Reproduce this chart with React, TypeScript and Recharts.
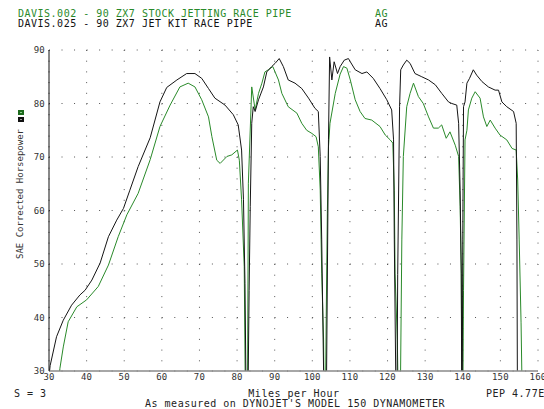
import React from 'react';
import { LineChart, Line, XAxis, YAxis, CartesianGrid } from 'recharts';

// DAVIS.025 - jet kit (black)
const jetKitMph = [
  30.0, 30.3, 32.0, 33.8, 36.0, 38.2, 39.6, 41.4, 43.6, 45.8, 48.0, 49.8, 51.5, 53.7, 56.9, 59.5,
  61.3, 64.0, 66.6, 68.8, 70.6, 72.4, 74.1, 76.8, 79.0, 80.3, 81.2, 81.7, 82.1, 82.4, 82.6,
  82.9, 83.2, 83.5, 83.9, 84.3, 84.8, 85.7, 87.0, 87.9, 89.2, 90.1, 91.2, 92.3, 93.6, 95.4, 97.2,
  99.0, 100.7, 101.6, 102.1, 102.5, 103.1, 103.4,
  103.8, 104.3, 104.6, 105.2, 105.8, 106.7, 107.4, 108.5, 109.6, 110.1, 111.4, 113.2, 114.5, 116.2,
  118.0, 119.8, 121.1, 121.6, 121.8, 122.2, 122.4,
  122.7, 123.2, 123.5, 124.2, 125.1, 126.0, 127.3, 129.1, 130.9, 132.7, 134.4, 136.2, 137.1, 138.4,
  138.9, 139.3, 139.6, 139.8,
  140.0, 140.2, 140.6, 141.1, 141.8, 142.8, 143.7, 145.1, 146.8, 148.6, 149.5, 150.4, 151.7, 153.5,
  154.2, 154.4, 154.6,
];
const jetKitHp = [
  29.0, 31.0, 36.4, 39.5, 42.3, 44.2, 45.1, 47.0, 50.2, 55.1, 58.2, 60.4, 63.8, 68.2, 73.6, 80.3,
  83.0, 84.4, 85.6, 85.6, 84.7, 82.8, 81.0, 79.7, 77.9, 76.0, 71.3, 62.0, 46.4, 25.0, 10.0,
  25.0, 45.0, 60.7, 76.3, 79.4, 78.5, 80.7, 83.1, 85.9, 86.9, 87.5, 88.4, 86.9, 84.4, 83.8, 82.8,
  81.0, 79.1, 78.5, 70.1, 54.5, 25.0, 10.0,
  30.0, 73.2, 88.7, 84.4, 87.8, 85.6, 86.9, 88.1, 88.4, 87.8, 86.3, 85.6, 85.9, 84.7,
  82.8, 80.7, 78.8, 73.2, 54.5, 28.0, 10.0,
  48.0, 79.4, 86.3, 87.2, 88.1, 87.5, 85.6, 85.0, 84.4, 83.5, 81.9, 80.3, 80.0, 79.7,
  76.3, 63.8, 48.3, 10.0,
  54.5, 79.4, 80.3, 83.8, 84.7, 86.3, 85.3, 84.1, 83.1, 82.5, 82.5, 80.3, 79.4, 78.5,
  76.3, 54.5, 10.0,
];

// DAVIS.002 - stock jetting (green)
const stockMph = [
  32.6, 32.9, 33.8, 35.1, 37.4, 40.0, 43.1, 45.8, 48.4, 50.7, 53.7, 56.9, 59.5, 62.2, 64.8, 67.0,
  68.8, 70.6, 72.4, 73.3, 74.6, 75.5, 77.3, 78.6, 80.1, 80.6, 81.2, 81.9, 82.2, 82.5,
  82.8, 83.0, 83.9, 84.8, 85.7, 86.6, 87.4, 88.3, 89.5, 90.1, 91.0, 91.9, 93.6, 95.9, 97.2, 98.5,
  99.9, 101.0, 101.6, 102.1, 102.5, 103.0, 103.3,
  103.7, 104.0, 104.3, 104.7, 106.1, 107.4, 108.3, 109.2, 110.1, 111.4, 112.7, 114.0, 115.8, 118.0,
  119.4, 120.7, 121.4, 121.8, 122.0, 122.6, 123.2,
  123.8, 124.2, 125.1, 126.0, 126.9, 128.2, 129.5, 130.9, 132.2, 133.5, 134.4, 135.6, 136.6, 138.0,
  138.9, 139.3, 139.6, 139.9,
  140.2, 140.6, 141.1, 141.5, 142.4, 143.3, 144.6, 145.5, 146.4, 147.3, 148.6, 149.9, 151.7, 153.1,
  154.2, 154.6, 155.0, 155.5, 155.8,
];
const stockHp = [
  28.0, 30.5, 34.5, 39.2, 42.0, 43.3, 45.8, 49.8, 55.1, 59.2, 63.2, 69.5, 75.7, 79.7, 83.1, 83.8,
  83.1, 80.7, 77.5, 73.8, 69.4, 68.8, 70.1, 70.4, 71.3, 69.4, 62.0, 49.5, 25.0, 10.0,
  30.0, 65.1, 83.1, 78.8, 81.9, 83.8, 85.9, 86.3, 86.9, 85.9, 84.4, 81.9, 79.4, 78.2, 76.3, 75.0,
  74.4, 73.8, 71.9, 63.8, 48.3, 35.8, 10.0,
  40.1, 59.5, 71.9, 76.3, 81.9, 85.5, 86.9, 86.6, 84.4, 80.7, 78.5, 77.2, 76.9, 75.7,
  74.1, 73.2, 72.6, 63.8, 48.3, 35.8, 10.0,
  54.5, 70.1, 79.4, 81.9, 83.8, 81.3, 80.0, 77.5, 75.4, 75.4, 76.0, 73.5, 74.7, 72.2,
  70.1, 60.7, 48.3, 10.0,
  45.1, 73.2, 75.0, 78.8, 81.0, 82.2, 81.0, 77.5, 75.7, 76.9, 75.4, 74.1, 73.2, 71.6,
  71.3, 65.7, 54.5, 39.0, 25.0,
];

const mphTicks = [30, 40, 50, 60, 70, 80, 90, 100, 110, 120, 130, 140, 150, 160];
const hpTicks = [30, 40, 50, 60, 70, 80, 90];

const jetKitData = jetKitMph.map((mph, i) => ({ mph, hp: jetKitHp[i] }));
const stockData = stockMph.map((mph, i) => ({ mph, hp: stockHp[i] }));

const FONT = '"DejaVu Sans Mono", monospace';
const GREEN = '#2a8a2a';

const txt = (left: number, top: number, s: string, extra: React.CSSProperties = {}) => (
  <div
    style={{
      position: 'absolute',
      left,
      top,
      fontFamily: FONT,
      fontSize: 10,
      lineHeight: '10px',
      letterSpacing: 0.5,
      whiteSpace: 'pre',
      color: '#222',
      ...extra,
    }}
  >
    {s}
  </div>
);

const tickStyle = { fontFamily: FONT, fontSize: 9, fill: '#333', letterSpacing: 0.2 };

export default function App() {
  return (
    <div style={{ position: 'relative', width: 544, height: 409, overflow: 'hidden', background: '#fff' }}>
      <style>{'body{margin:0}'}</style>
      <LineChart
        width={544}
        height={409}
        margin={{ top: 50, right: 6, bottom: 18, left: 4 }}
        style={{ position: 'absolute', left: 0, top: 0 }}
      >
        <CartesianGrid horizontal={true} vertical={false} stroke="#555" strokeDasharray="1 11.53" />
        <CartesianGrid horizontal={false} vertical={true} stroke="#555" strokeDasharray="1 9.7" />
        <XAxis
          type="number"
          dataKey="mph"
          domain={[30, 160]}
          ticks={mphTicks}
          allowDataOverflow
          height={20}
          tickSize={0}
          tickMargin={3}
          tick={tickStyle}
          axisLine={{ stroke: '#8a8a8a', strokeWidth: 1.5 }}
          tickLine={false}
          interval={0}
        />
        <YAxis
          type="number"
          domain={[30, 90]}
          ticks={hpTicks}
          allowDataOverflow
          width={45}
          tickSize={0}
          tickMargin={4}
          tick={tickStyle}
          axisLine={{ stroke: '#111' }}
          tickLine={false}
          interval={0}
        />
        <Line
          data={stockData}
          dataKey="hp"
          type="linear"
          stroke={GREEN}
          strokeWidth={1}
          dot={false}
          isAnimationActive={false}
        />
        <Line
          data={jetKitData}
          dataKey="hp"
          type="linear"
          stroke="#151515"
          strokeWidth={1}
          dot={false}
          isAnimationActive={false}
        />
      </LineChart>

      {txt(18, 9, 'DAVIS.002 - 90 ZX7 STOCK JETTING RACE PIPE', { color: GREEN })}
      {txt(375, 9, 'AG', { color: GREEN })}
      {txt(18, 19, 'DAVIS.025 - 90 ZX7 JET KIT RACE PIPE', { color: '#111' })}
      {txt(375, 19, 'AG', { color: '#111' })}

      <div style={{ position: 'absolute', left: 18, top: 110, width: 6, height: 5, background: '#1d6b1d' }}>
        <div style={{ position: 'absolute', left: 2, top: 2, width: 2, height: 1, background: '#8fcf8f' }} />
      </div>
      <div style={{ position: 'absolute', left: 18, top: 117, width: 6, height: 5, background: '#111' }}>
        <div style={{ position: 'absolute', left: 2, top: 2, width: 2, height: 1, background: '#999' }} />
      </div>

      <div
        style={{
          position: 'absolute',
          left: 20,
          top: 194,
          transform: 'translate(-50%, -50%) rotate(-90deg)',
          fontFamily: FONT,
          fontSize: 9,
          lineHeight: '10px',
          whiteSpace: 'pre',
          color: '#333',
        }}
      >
        SAE Corrected Horsepower
      </div>

      {txt(14, 389, 'S = 3')}
      <div
        style={{
          position: 'absolute',
          left: 294,
          top: 389,
          transform: 'translateX(-50%)',
          fontFamily: FONT,
          fontSize: 10,
          lineHeight: '10px',
          letterSpacing: 0.5,
          whiteSpace: 'pre',
          color: '#222',
        }}
      >
        Miles per Hour
      </div>
      {txt(486, 389, 'PEP 4.77E')}
      <div
        style={{
          position: 'absolute',
          left: 295,
          top: 398.5,
          transform: 'translateX(-50%)',
          fontFamily: FONT,
          fontSize: 10,
          lineHeight: '10px',
          letterSpacing: 0.5,
          whiteSpace: 'pre',
          color: '#222',
        }}
      >
        As measured on DYNOJET'S MODEL 150 DYNAMOMETER
      </div>
    </div>
  );
}
